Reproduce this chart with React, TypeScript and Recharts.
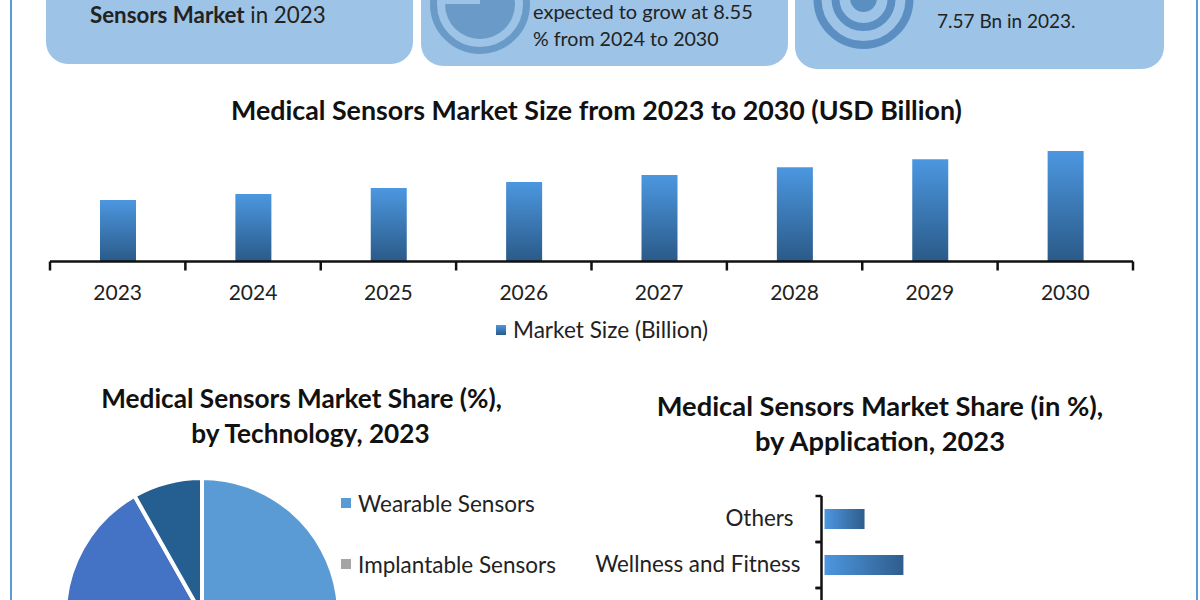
import React from "react";
import { BarChart, Bar, XAxis, YAxis, Legend, PieChart, Pie, Cell } from "recharts";

const years = ["2023", "2024", "2025", "2026", "2027", "2028", "2029", "2030"];
const marketSize = [7.57, 8.3, 9.05, 9.8, 10.65, 11.6, 12.6, 13.6];

const techNames = ["Wearable Sensors", "Implantable Sensors", "Other Sensors", "Invasive Sensors", "Non-invasive Sensors"];
const techShares = [45, 6, 6, 34.8, 8.2];
const techColors = ["#5B9BD5", "#A5A5A5", "#7F9FCF", "#4472C4", "#255E91"];

const appNames = ["Others", "Wellness and Fitness", "Patient Monitoring"];
const appShares = [10.3, 20.3, 30];

const yearData = years.map((year, i) => ({ year, size: marketSize[i] }));
const techData = techNames.map((name, i) => ({ name, share: techShares[i] }));
const appData = appNames.map((name, i) => ({ name, share: appShares[i] }));

const FONT = "Lato, Carlito, sans-serif";
const INK = "#222222";

const abs = (left: number, top: number, extra: React.CSSProperties = {}): React.CSSProperties => ({
  position: "absolute",
  left,
  top,
  fontFamily: FONT,
  color: INK,
  whiteSpace: "nowrap",
  ...extra,
});

function YearTick(props: any) {
  const { x, y, payload, index } = props;
  const band = 1083 / years.length;
  return (
    <g>
      <line x1={x - band / 2} x2={x - band / 2} y1={y - 6} y2={y + 3} stroke="#111" strokeWidth={2.5} />
      {index === years.length - 1 && (
        <line x1={x + band / 2} x2={x + band / 2} y1={y - 6} y2={y + 3} stroke="#111" strokeWidth={2.5} />
      )}
      <text x={x} y={y + 32} textAnchor="middle" fontFamily={FONT} fontSize={21} fill={INK}>
        {payload.value}
      </text>
    </g>
  );
}

function SizeLegend(props: any) {
  const entry = (props.payload || [])[0];
  return (
    <div style={{ position: "absolute", left: 496, top: 316, display: "flex", alignItems: "center", fontFamily: FONT, fontSize: 22.6, color: INK, whiteSpace: "nowrap", lineHeight: "28px" }}>
      <svg width={17} height={10}>
        <rect width={10} height={10} fill="url(#gradV)" />
      </svg>
      {entry ? entry.value : ""}
    </div>
  );
}

function TechLegend() {
  return (
    <div style={{ position: "absolute", left: 341, top: 29, fontFamily: FONT, fontSize: 22.5, color: INK, whiteSpace: "nowrap" }}>
      {techNames.map((n, i) => (
        <div key={n} style={{ display: "flex", alignItems: "center", height: 28, marginBottom: 33 }}>
          <svg width={17} height={10}>
            <rect width={10} height={10} fill={techColors[i]} />
          </svg>
          {n}
        </div>
      ))}
    </div>
  );
}

function AppTick(props: any) {
  const { x, y, payload, index } = props;
  const band = 46;
  return (
    <g>
      <line x1={x + 2} x2={x + 8} y1={y - band / 2} y2={y - band / 2} stroke="#111" strokeWidth={2.5} />
      <line x1={x + 2} x2={x + 8} y1={y + band / 2} y2={y + band / 2} stroke="#111" strokeWidth={2.5} />
      <text x={x + (index === 0 ? -20 : -13)} y={y + 7} textAnchor="end" fontFamily={FONT} fontSize={22.4} fill={INK}>
        {payload.value}
      </text>
    </g>
  );
}

const panel = (left: number, width: number, height: number): React.CSSProperties => ({
  position: "absolute",
  left,
  top: -30,
  width,
  height: height + 30,
  background: "#9DC3E6",
  borderRadius: 22,
});

const legendWrap: React.CSSProperties = { left: 0, top: 0, bottom: "auto", width: 0, height: 0 };

export default function App() {
  return (
    <div style={{ position: "absolute", left: 0, top: 0, width: 1200, height: 600, overflow: "hidden", background: "#fff" }}>
      <div style={{ position: "absolute", left: 10, top: 0, width: 2, height: 600, background: "#5B9BD5" }} />
      <div style={{ position: "absolute", left: 1196, top: 0, width: 2, height: 600, background: "#5B9BD5" }} />

      <div style={panel(46, 367, 64)} />
      <div style={panel(421, 367, 66)} />
      <div style={panel(795, 369, 69)} />

      <svg style={{ position: "absolute", left: 0, top: 0 }} width={1200} height={80}>
        <circle cx={480} cy={4} r={46.5} fill="none" stroke="#6A9BC8" strokeWidth={7} />
        <path d="M480 -31 A35 35 0 1 1 445 4 L480 4 Z" fill="#6A9BC8" />
        <circle cx={863.5} cy={-1} r={46} fill="none" stroke="#5B8FC2" strokeWidth={8} />
        <circle cx={863.5} cy={-1} r={28} fill="none" stroke="#5B8FC2" strokeWidth={8} />
        <circle cx={863.5} cy={-1.5} r={13.5} fill="#5B8FC2" />
      </svg>

      <div style={abs(90, 1, { fontSize: 22.3 })}>
        <b>Sensors Market</b> in 2023
      </div>
      <div style={abs(533, -1, { fontSize: 20 })}>expected to grow at 8.55</div>
      <div style={abs(533, 27, { fontSize: 19.6 })}>% from 2024 to 2030</div>
      <div style={abs(937, 9, { fontSize: 19 })}>7.57 Bn in 2023.</div>

      <div style={abs(0, 94, { width: 1193, textAlign: "center", fontSize: 26.8, fontWeight: 700, color: "#111" })}>
        Medical Sensors Market Size from 2023 to 2030 (USD Billion)
      </div>

      <div style={{ position: "absolute", left: 0, top: 0 }}>
        <BarChart width={1200} height={345} data={yearData} margin={{ top: 131.5, right: 67, bottom: 43.5, left: 50 }}>
          <defs>
            <linearGradient id="gradV" x1="0" y1="0" x2="0" y2="1">
              <stop offset="0%" stopColor="#4C97E0" />
              <stop offset="100%" stopColor="#2A5A88" />
            </linearGradient>
            <linearGradient id="gradH" x1="0" y1="0" x2="1" y2="0">
              <stop offset="0%" stopColor="#4C97E0" />
              <stop offset="100%" stopColor="#2F5D8C" />
            </linearGradient>
          </defs>
          <XAxis dataKey="year" axisLine={{ stroke: "#111", strokeWidth: 2.5 }} tickLine={false} tick={<YearTick />} tickMargin={0} height={40} interval={0} />
          <YAxis hide domain={[0, 16]} />
          <Legend content={<SizeLegend />} wrapperStyle={legendWrap} />
          <Bar dataKey="size" name="Market Size (Billion)" fill="url(#gradV)" barSize={36} isAnimationActive={false} />
        </BarChart>
      </div>

      <div style={abs(0, 381, { width: 603, textAlign: "center", fontSize: 26.2, fontWeight: 700, color: "#111", lineHeight: "35px" })}>
        Medical Sensors Market Share (%),
        <br />
        <span style={{ display: "inline-block", marginLeft: 18 }}>by Technology, 2023</span>
      </div>

      <div style={abs(580, 388, { width: 600, textAlign: "center", fontSize: 27.3, fontWeight: 700, color: "#111", lineHeight: "35px" })}>
        Medical Sensors Market Share (in %),
        <br />
        by Application, 2023
      </div>

      <div style={{ position: "absolute", left: 0, top: 460 }}>
        <PieChart width={600} height={320} margin={{ top: 0, right: 0, bottom: 0, left: 0 }}>
          <Pie data={techData} dataKey="share" nameKey="name" cx={202} cy={155} outerRadius={137} startAngle={90} endAngle={-270} stroke="#fff" strokeWidth={4} isAnimationActive={false}>
            {techData.map((d, i) => (
              <Cell key={d.name} fill={techColors[i]} />
            ))}
          </Pie>
          <Legend content={<TechLegend />} wrapperStyle={legendWrap} />
        </PieChart>
      </div>

      <div style={{ position: "absolute", left: 580, top: 480 }}>
        <BarChart layout="vertical" width={400} height={154} data={appData} margin={{ top: 16, right: 0, bottom: 0, left: 0 }}>
          <XAxis type="number" hide domain={[0, 40]} padding={{ left: 3, right: 0 }} />
          <YAxis type="category" dataKey="name" width={241.5} tickLine={false} tick={<AppTick />} interval={0} axisLine={{ stroke: "#111", strokeWidth: 2.5 }} />
          <Bar dataKey="share" fill="url(#gradH)" barSize={20} isAnimationActive={false} />
        </BarChart>
      </div>
    </div>
  );
}
